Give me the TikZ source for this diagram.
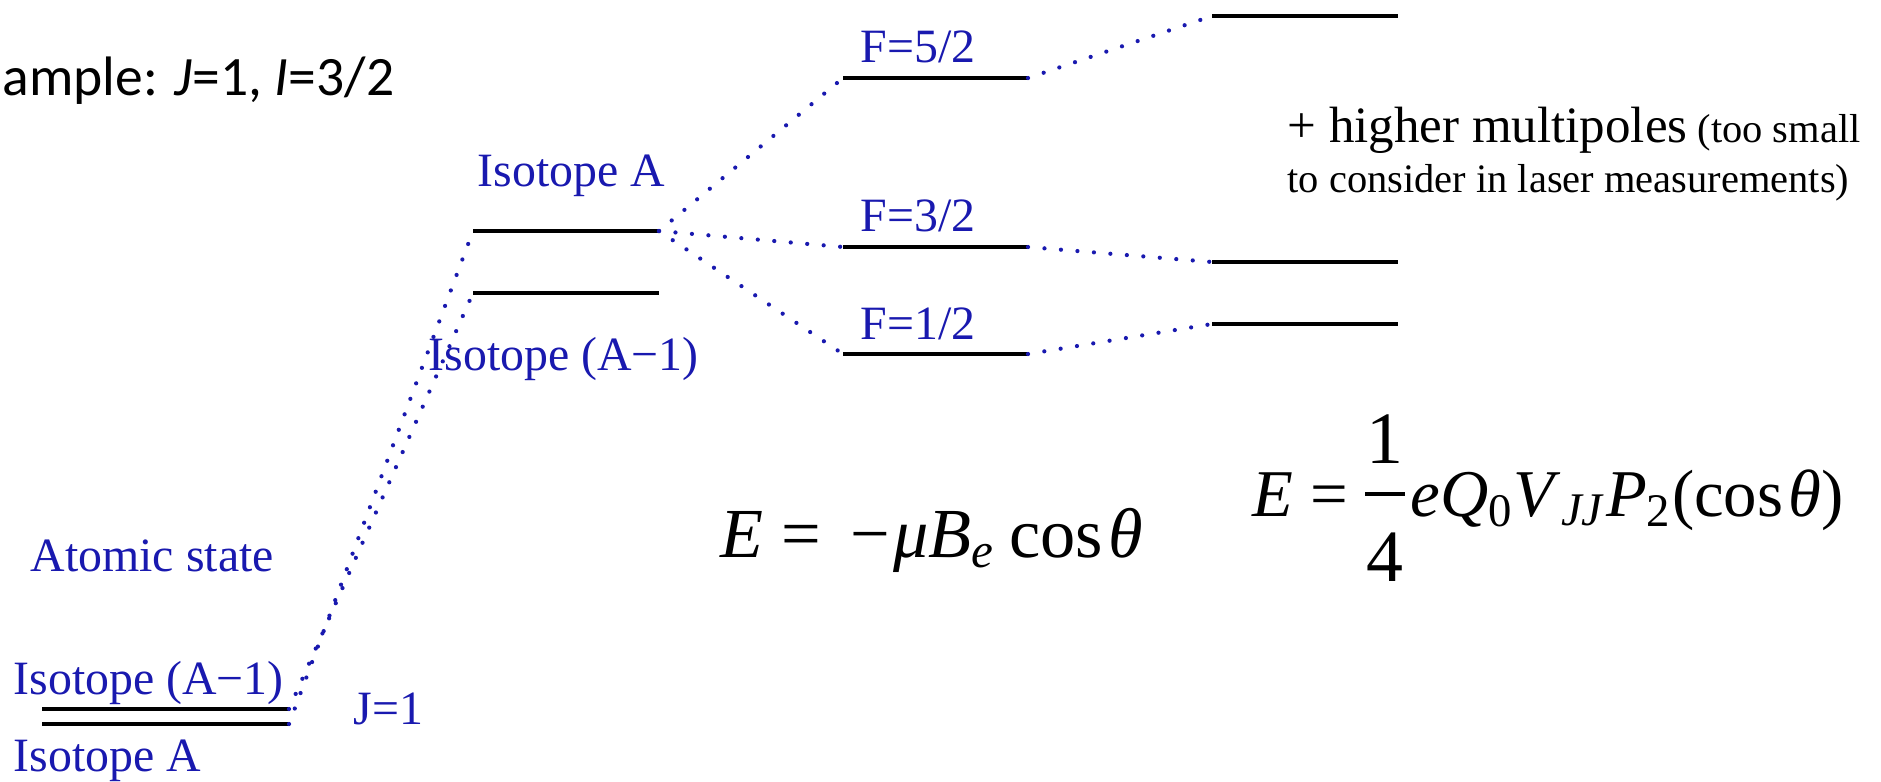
\documentclass[tikz,border=0pt]{standalone}
\usepackage{fontspec}
\setmainfont{Liberation Serif}
\newfontfamily\slidefont{Carlito}
\usepackage{tikz}
\usetikzlibrary{calc}
\definecolor{stateblue}{RGB}{25, 25, 175}
\newcommand{\ti}[1]{\textit{#1}}
\newcommand{\bluesize}{\fontsize{13.6}{16}\selectfont}
\newcommand{\bigsize}{\fontsize{14.5}{17}\selectfont}
\newcommand{\smallsize}{\fontsize{11.5}{14}\selectfont}
\newcommand{\eqsize}{\fontsize{20}{24}\selectfont}
\newcommand{\quadsize}{\fontsize{19}{23}\selectfont}
\newcommand{\fracsize}{\fontsize{21}{25}\selectfont}
\tikzset{
	level/.style={line width=1.1pt, color=black, line cap=butt},
	link/.style={stateblue, line width=1.2pt, line cap=round, dash pattern=on 0pt off 4.7pt},
	statelabel/.style={text=stateblue, font=\bluesize, inner sep=0pt, anchor=base west},
	note/.style={inner sep=0pt, anchor=base west},
}

\begin{document}
\begin{tikzpicture}[x=0.01cm, y=-0.01cm]
	\useasboundingbox (0,0) rectangle (1881,781);
	
	% level ends
	\coordinate (gB-w) at (42,709);   \coordinate (gB-e) at (289,709);
	\coordinate (gA-w) at (42,724);   \coordinate (gA-e) at (289,724);
	\coordinate (mA-w) at (473,231);  \coordinate (mA-e) at (659,231);
	\coordinate (mB-w) at (473,293);  \coordinate (mB-e) at (659,293);
	\coordinate (f5-w) at (843,78);   \coordinate (f5-e) at (1028,78);
	\coordinate (f3-w) at (843,247);  \coordinate (f3-e) at (1028,247);
	\coordinate (f1-w) at (843,354);  \coordinate (f1-e) at (1028,354);
	\coordinate (q5-w) at (1212,16);  \coordinate (q5-e) at (1398,16);
	\coordinate (q3-w) at (1212,262); \coordinate (q3-e) at (1398,262);
	\coordinate (q1-w) at (1212,324); \coordinate (q1-e) at (1398,324);
	
	\foreach \lv in {gA,gB,mA,mB,f5,f3,f1,q5,q3,q1}
		\draw[level] (\lv-w) -- (\lv-e);
	
	% dotted links
	\draw[link] (gA-e) -- (mA-w);
	\draw[link] (gB-e) -- (mB-w);
	\foreach \f in {f5,f3,f1}
		\draw[link] (mA-e) -- (\f-w);
	\foreach \f/\q in {f5/q5,f3/q3,f1/q1}
		\draw[link] (\f-e) -- (\q-w);
	
	% labels
	\node[note, font=\slidefont\fontsize{15.8}{19}\selectfont] (example) at (2,95) {ample: \textit{J}=1, \textit{I}=3/2};
	
	\node[statelabel] (atomic) at (30,571) {Atomic state};
	\node[statelabel] (lowB) at (13,694) {Isotope (A−1)};
	\node[statelabel] (lowA) at (13,771) {Isotope A};
	\node[statelabel] (jval) at (353,724) {J=1};
	\node[statelabel] (midA) at (477,186) {Isotope A};
	\node[statelabel] (midB) at (428,370) {Isotope (A−1)};
	\foreach \nm/\lab/\y in {f5/5/62,f3/3/231,f1/1/339}
		\node[statelabel] (\nm-lab) at (860,\y) {F=\lab/2};
	
	\node[note, font=\bigsize] (multi) at (1287,142) {+ higher multipoles{\smallsize\ (too small}};
	\node[note, font=\smallsize] (multi2) at (1287,192) {to consider in laser measurements)};
	
	% formulas
	\node[note, font=\eqsize] (dipole) at (720,557) {\ti{E} = \,−\hspace{0.05em}\ti{μB}\textsubscript{\ti{e}}\hspace{0.2em}cos\hspace{0.08em}\ti{θ}};
	
	\node[note, font=\quadsize] (quadE) at (1252,516) {\ti{E} =};
	\coordinate (bar-w) at (1365,494); \coordinate (bar-e) at (1405,494);
	\draw[line width=0.9pt] (bar-w) -- (bar-e);
	\node[inner sep=0pt, anchor=base, font=\fracsize] (num) at ($(bar-w)!0.5!(bar-e)+(0,-31)$) {1};
	\node[inner sep=0pt, anchor=base, font=\fracsize] (den) at ($(bar-w)!0.5!(bar-e)+(0,87)$) {4};
	\node[note, font=\quadsize] (quadrest) at (1410,516) {\ti{eQ}\textsubscript{0}\ti{V}\textsubscript{\ti{JJ}}\ti{P}\textsubscript{2}(cos\hspace{0.08em}\ti{θ})};
\end{tikzpicture}
\end{document}
